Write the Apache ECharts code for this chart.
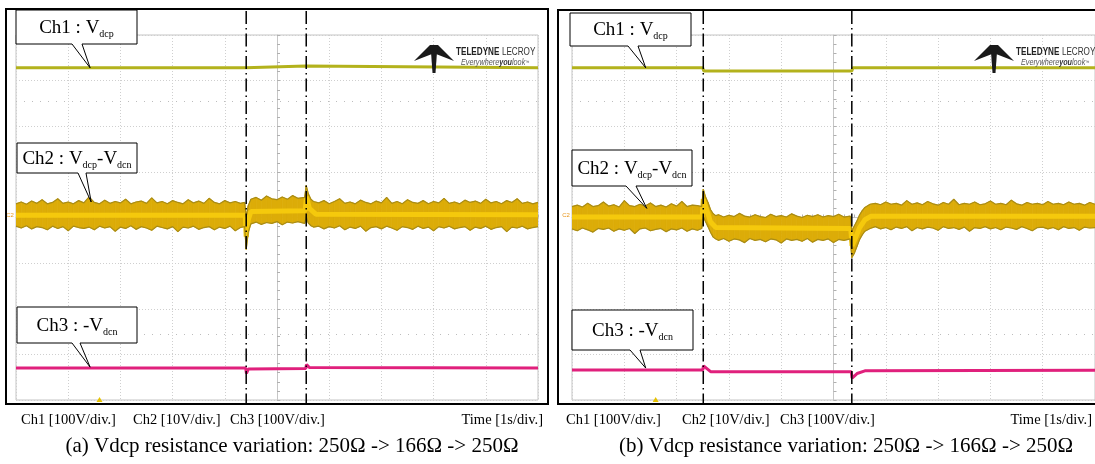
<!DOCTYPE html>
<html><head><meta charset="utf-8">
<script src="https://cdn.jsdelivr.net/npm/echarts@6/dist/echarts.min.js"></script>
<style>html,body{margin:0;padding:0;background:#fff}#c{width:1095px;height:464px}</style>
</head><body><div id="c"></div>
<script>
// ---------- data (scope units: x in divisions from centre, y in divisions from centre) ----------
const cursorsA = [-0.59, 0.56];
const cursorsB = [-2.49, 0.35];
const offsetMarks = [2.55, -2.55];

const ch1A = [[-5,3.28],[-0.6,3.28],[-0.58,3.32],[0.55,3.32],[0.57,3.28],[5,3.28]];
const ch1B = [[-5,3.28],[-2.5,3.28],[-2.48,3.21],[0.35,3.21],[0.37,3.28],[5,3.28]];

const ch3A = [[-5,-3.30],[-0.6,-3.30],[-0.585,-3.42],[-0.55,-3.32],[0.55,-3.31],[0.565,-3.22],[0.62,-3.29],[5,-3.30]];
const ch3B = [[-5,-3.34],[-2.5,-3.34],[-2.485,-3.25],[-2.35,-3.38],[0.34,-3.38],[0.355,-3.52],[0.45,-3.42],[0.6,-3.36],[5,-3.35]];

const ch2MidA = [[-5,0.05],[-0.61,0.05],[-0.59,-0.42],[-0.55,-0.05],[-0.5,0.13],[0.54,0.15],[0.565,0.45],[0.62,0.2],[0.75,0.07],[5,0.06]];
const ch2MidB = [[-5,0.01],[-2.51,0.01],[-2.49,0.40],[-2.42,0.15],[-2.35,-0.1],[-2.25,-0.22],[0.33,-0.24],[0.355,-0.62],[0.42,-0.45],[0.5,-0.22],[0.6,-0.05],[0.72,0.03],[5,0.03]];

// Ch2 envelope: [t, low, high]
const ch2BandA = [
[-5.0,-0.19,0.30],[-4.9,-0.23,0.34],[-4.8,-0.18,0.29],[-4.7,-0.25,0.36],[-4.6,-0.20,0.31],[-4.5,-0.22,0.39],[-4.4,-0.27,0.30],[-4.3,-0.19,0.33],[-4.2,-0.24,0.41],[-4.1,-0.20,0.31],
[-4.0,-0.29,0.34],[-3.9,-0.19,0.30],[-3.8,-0.22,0.37],[-3.7,-0.24,0.32],[-3.6,-0.21,0.45],[-3.5,-0.27,0.33],[-3.4,-0.19,0.30],[-3.3,-0.23,0.38],[-3.2,-0.20,0.31],[-3.1,-0.30,0.35],
[-3.0,-0.21,0.32],[-2.9,-0.24,0.40],[-2.8,-0.18,0.30],[-2.7,-0.26,0.34],[-2.6,-0.20,0.36],[-2.5,-0.23,0.31],[-2.4,-0.28,0.43],[-2.3,-0.19,0.32],[-2.2,-0.22,0.35],[-2.1,-0.25,0.30],
[-2.0,-0.20,0.37],[-1.9,-0.31,0.33],[-1.8,-0.21,0.30],[-1.7,-0.23,0.39],[-1.6,-0.19,0.32],[-1.5,-0.26,0.36],[-1.4,-0.22,0.31],[-1.3,-0.20,0.42],[-1.2,-0.27,0.33],[-1.1,-0.21,0.30],
[-1.0,-0.24,0.37],[-0.9,-0.19,0.32],[-0.8,-0.29,0.35],[-0.7,-0.22,0.31],[-0.62,-0.20,0.33],
[-0.59,-0.70,0.02],[-0.55,-0.32,0.26],[-0.5,-0.14,0.40],[-0.4,-0.10,0.44],[-0.3,-0.15,0.38],[-0.2,-0.11,0.47],[-0.1,-0.13,0.41],[0.0,-0.09,0.39],[0.1,-0.16,0.45],[0.2,-0.10,0.40],[0.3,-0.12,0.48],[0.4,-0.09,0.42],[0.53,-0.13,0.44],
[0.56,0.02,0.70],[0.6,-0.12,0.52],[0.65,-0.18,0.40],[0.7,-0.21,0.35],[0.8,-0.19,0.32],[0.9,-0.25,0.37],
[1.0,-0.20,0.30],[1.1,-0.23,0.35],[1.2,-0.18,0.41],[1.3,-0.27,0.31],[1.4,-0.21,0.34],[1.5,-0.24,0.30],[1.6,-0.19,0.38],[1.7,-0.30,0.33],[1.8,-0.22,0.30],[1.9,-0.20,0.36],
[2.0,-0.25,0.32],[2.1,-0.19,0.44],[2.2,-0.23,0.31],[2.3,-0.28,0.35],[2.4,-0.20,0.30],[2.5,-0.22,0.39],[2.6,-0.26,0.33],[2.7,-0.19,0.31],[2.8,-0.24,0.37],[2.9,-0.21,0.30],
[3.0,-0.29,0.35],[3.1,-0.20,0.32],[3.2,-0.23,0.42],[3.3,-0.19,0.31],[3.4,-0.25,0.34],[3.5,-0.22,0.30],[3.6,-0.20,0.38],[3.7,-0.28,0.33],[3.8,-0.21,0.36],[3.9,-0.24,0.31],
[4.0,-0.19,0.40],[4.1,-0.26,0.32],[4.2,-0.22,0.35],[4.3,-0.20,0.30],[4.4,-0.31,0.37],[4.5,-0.21,0.33],[4.6,-0.23,0.41],[4.7,-0.19,0.31],[4.8,-0.25,0.34],[4.9,-0.22,0.30],[5.0,-0.20,0.33]
];
const ch2BandB = [
[-5.0,-0.25,0.24],[-4.9,-0.29,0.27],[-4.8,-0.23,0.23],[-4.7,-0.27,0.31],[-4.6,-0.32,0.24],[-4.5,-0.24,0.26],[-4.4,-0.26,0.34],[-4.3,-0.23,0.25],[-4.2,-0.30,0.28],[-4.1,-0.25,0.23],
[-4.0,-0.28,0.37],[-3.9,-0.24,0.26],[-3.8,-0.35,0.24],[-3.7,-0.25,0.29],[-3.6,-0.23,0.25],[-3.5,-0.29,0.32],[-3.4,-0.26,0.24],[-3.3,-0.24,0.27],[-3.2,-0.31,0.23],[-3.1,-0.25,0.30],
[-3.0,-0.27,0.25],[-2.9,-0.23,0.35],[-2.8,-0.30,0.24],[-2.7,-0.25,0.27],[-2.6,-0.28,0.26],[-2.52,-0.24,0.24],
[-2.49,0.02,0.62],[-2.45,-0.08,0.46],[-2.4,-0.20,0.33],[-2.35,-0.33,0.17],[-2.3,-0.43,0.08],[-2.25,-0.47,0.04],[-2.2,-0.50,0.06],[-2.1,-0.46,0.01],[-2.0,-0.52,0.05],
[-1.9,-0.47,0.02],[-1.8,-0.49,0.09],[-1.7,-0.55,0.03],[-1.6,-0.46,0.01],[-1.5,-0.50,0.06],[-1.4,-0.48,0.02],[-1.3,-0.53,0.00],[-1.2,-0.47,0.07],[-1.1,-0.49,0.02],[-1.0,-0.56,0.04],
[-0.9,-0.47,0.01],[-0.8,-0.50,0.08],[-0.7,-0.48,0.03],[-0.6,-0.52,0.00],[-0.5,-0.46,0.05],[-0.4,-0.54,0.02],[-0.3,-0.48,0.06],[-0.2,-0.50,0.01],[-0.1,-0.47,0.04],[0.0,-0.55,0.02],
[0.1,-0.48,0.07],[0.2,-0.50,0.01],[0.32,-0.47,0.03],
[0.35,-0.88,-0.30],[0.4,-0.78,-0.18],[0.45,-0.63,-0.07],[0.5,-0.48,0.06],[0.55,-0.38,0.15],[0.6,-0.30,0.22],[0.7,-0.24,0.29],[0.8,-0.20,0.31],[0.9,-0.25,0.28],
[1.0,-0.22,0.34],[1.1,-0.27,0.29],[1.2,-0.21,0.31],[1.3,-0.24,0.27],[1.4,-0.20,0.37],[1.5,-0.29,0.29],[1.6,-0.22,0.32],[1.7,-0.25,0.28],[1.8,-0.21,0.35],[1.9,-0.23,0.30],
[2.0,-0.28,0.27],[2.1,-0.20,0.33],[2.2,-0.24,0.29],[2.3,-0.22,0.40],[2.4,-0.26,0.28],[2.5,-0.21,0.31],[2.6,-0.30,0.29],[2.7,-0.22,0.34],[2.8,-0.24,0.28],[2.9,-0.20,0.30],
[3.0,-0.25,0.36],[3.1,-0.22,0.29],[3.2,-0.27,0.31],[3.3,-0.21,0.28],[3.4,-0.23,0.38],[3.5,-0.26,0.30],[3.6,-0.20,0.27],[3.7,-0.24,0.33],[3.8,-0.29,0.29],[3.9,-0.22,0.31],
[4.0,-0.21,0.28],[4.1,-0.25,0.35],[4.2,-0.22,0.29],[4.3,-0.27,0.31],[4.4,-0.20,0.28],[4.5,-0.24,0.34],[4.6,-0.22,0.29],[4.7,-0.28,0.31],[4.8,-0.21,0.27],[4.9,-0.23,0.33],[5.0,-0.22,0.29]
];

// callout tips (data coords)
const tipsA = [[-3.58,3.28],[-3.56,0.34],[-3.58,-3.28]];
const tipsB = [[-3.59,3.28],[-3.57,0.20],[-3.59,-3.30]];

const scaleLabels = ['Ch1 [100V/div.]','Ch2 [10V/div.]','Ch3 [100V/div.]','Time [1s/div.]'];
const captions = ['(a) Vdcp resistance variation: 250\u03A9 -> 166\u03A9 -> 250\u03A9','(b) Vdcp resistance variation: 250\u03A9 -> 166\u03A9 -> 250\u03A9'];

// ---------- chart ----------
const C_CH1 = '#b3b21c', C_CH3 = '#e0207c', C_BAND = '#dcac08', C_EDGE = '#a98c16', C_MID = '#f5c90c';
const SERIF = '"Liberation Serif","Times New Roman",serif';
const SANS = '"Liberation Sans Narrow","Liberation Sans",sans-serif';
const chart = echarts.init(document.getElementById('c'), null, {renderer:'canvas'});

function axisPair(i){
  const common = {
    gridIndex:i, type:'value', min:-5, max:5, interval:1,
    axisLine:{onZero:true, lineStyle:{color:'#c6c6c6', width:1}},
    axisTick:{show:true, inside:true, length:3, lineStyle:{color:'#b0b0b0'}},
    minorTick:{show:true, splitNumber:5, length:3, lineStyle:{color:'#b0b0b0'}},
    axisLabel:{show:false},
    splitLine:{show:true, lineStyle:{color:'#cfcfcf', type:[1,2], width:1}}
  };
  return [common, Object.assign({}, common, {min:-4, max:4})];
}
const [xa0, ya0] = axisPair(0), [xa1, ya1] = axisPair(1);

function bandSeries(arr, i){
  return {
    type:'custom', xAxisIndex:i, yAxisIndex:i, data:arr, silent:true, clip:true, z:2,
    encode:{x:0, y:[1,2]},
    renderItem:function(params, api){
      const k = params.dataIndex;
      if (k >= arr.length-1) return null;
      const a = arr[k], b = arr[k+1];
      const pts = [api.coord([a[0],a[2]]), api.coord([b[0],b[2]]), api.coord([b[0],b[1]]), api.coord([a[0],a[1]])];
      return {type:'polygon', shape:{points:pts}, style:{fill:C_BAND, stroke:C_BAND, lineWidth:0.8}};
    }
  };
}
function lineSeries(data, i, color, width, extra){
  return Object.assign({type:'line', xAxisIndex:i, yAxisIndex:i, data:data, showSymbol:false, symbol:'none',
    silent:true, lineStyle:{color:color, width:width}, z:3}, extra||{});
}
function edges(arr, i){
  return [
    lineSeries(arr.map(r=>[r[0], r[2]]), i, C_EDGE, 1.2, {z:4}),
    lineSeries(arr.map(r=>[r[0], r[1]]), i, C_EDGE, 1.2, {z:4})
  ];
}
const marks = {markLine:{silent:true, symbol:'none', label:{show:false},
  lineStyle:{color:'#bdbdbd', type:[1,7], width:1}, data:offsetMarks.map(v=>({yAxis:v}))}};

chart.setOption({
  animation:false,
  grid:[
    {left:16, top:35, width:522, height:365, show:true, borderColor:'#c4c4c4', borderWidth:1, backgroundColor:'#fff'},
    {left:572, top:35, width:525, height:365, show:true, borderColor:'#c4c4c4', borderWidth:1, backgroundColor:'#fff'}
  ],
  xAxis:[xa0, xa1],
  yAxis:[ya0, ya1],
  series:[
    lineSeries(ch1A, 0, C_CH1, 3, marks),
    bandSeries(ch2BandA, 0),
    ...edges(ch2BandA, 0),
    lineSeries(ch2MidA, 0, C_MID, 5),
    lineSeries(ch3A, 0, C_CH3, 3),
    lineSeries(ch1B, 1, C_CH1, 3, marks),
    bandSeries(ch2BandB, 1),
    ...edges(ch2BandB, 1),
    lineSeries(ch2MidB, 1, C_MID, 5),
    lineSeries(ch3B, 1, C_CH3, 3)
  ]
});

// ---------- annotations ----------
const g = [];
function px(i, pt){ return chart.convertToPixel({xAxisIndex:i, yAxisIndex:i}, pt); }
function frame(x, y, w, h){
  g.push({type:'rect', shape:{x:x, y:y, width:w, height:h}, style:{fill:'none', stroke:'#000', lineWidth:2}, z:50});
}
function callout(box, b1, b2, tip, text){
  const [x0,y0,x1,y1] = box;
  g.push({type:'polygon', shape:{points:[[x0,y0],[x1,y0],[x1,y1],[b2,y1],tip,[b1,y1],[x0,y1]]},
    style:{fill:'#fff', stroke:'#000', lineWidth:1}, z:60});
  g.push({type:'text', x:(x0+x1)/2, y:(y0+y1)/2+1, z:61, style:{text:text, align:'center', verticalAlign:'middle',
    rich:{m:{fontSize:19, fontFamily:SERIF, fill:'#000', lineHeight:22},
          s:{fontSize:10, fontFamily:SERIF, fill:'#000', lineHeight:11, verticalAlign:'bottom'}}}});
}
function logo(ox){
  const s = [
    [[ox+414,61],[ox+430,45],[ox+432,45],[ox+432,54]],
    [[ox+454,61],[ox+438,45],[ox+436,45],[ox+436,54]],
    [[ox+430.5,45],[ox+437.5,45],[ox+435.5,73],[ox+432.5,73]]
  ];
  s.forEach(p=>g.push({type:'polygon', shape:{points:p}, style:{fill:'#1a1a1a'}, z:55}));
  g.push({type:'text', x:ox+456, y:52, scaleX:0.74, z:55,
    style:{text:'{b|TELEDYNE} {n|LECROY}', verticalAlign:'middle',
    rich:{b:{fontSize:11, fontWeight:'bold', fontFamily:SANS, fill:'#222'},
          n:{fontSize:11, fontFamily:SANS, fill:'#333'}}}});
  g.push({type:'text', x:ox+461, y:63, scaleX:0.85, z:55,
    style:{text:'{i|Everywhere}{b|you}{i|look}{t|\u2122}', verticalAlign:'middle',
    rich:{i:{fontSize:8.5, fontStyle:'italic', fontFamily:SANS, fill:'#555'},
          b:{fontSize:8.5, fontStyle:'italic', fontWeight:'bold', fontFamily:SANS, fill:'#333'},
          t:{fontSize:5, fill:'#555'}}}});
}
function cursors(i, list){
  list.forEach(t=>{
    const x = px(i, [t, 0])[0];
    g.push({type:'line', shape:{x1:x, y1:11, x2:x, y2:404}, style:{stroke:'#000', lineWidth:1.5, lineDash:[13,4,1.5,4]}, z:40});
  });
}
function trig(i){
  const p = px(i, [-3.4, -4]);
  g.push({type:'polygon', shape:{points:[[p[0]-3,p[1]+2],[p[0]+3,p[1]+2],[p[0],p[1]-3]]}, style:{fill:'#e6c200'}, z:45});
}
function c2mark(i){
  const p = px(i, [-5, 0.05]);
  g.push({type:'text', x:p[0]-6, y:p[1], z:45, style:{text:'C2', fontSize:6, fill:'#e8961a', align:'center', verticalAlign:'middle', fontFamily:'sans-serif'}});
}
function texts(xs, right, y, cap, capX){
  for (let k=0;k<3;k++) g.push({type:'text', x:xs[k], y:y, style:{text:scaleLabels[k], fontSize:14.5, fontFamily:SERIF, fill:'#000', verticalAlign:'middle'}});
  g.push({type:'text', x:right, y:y, style:{text:scaleLabels[3], fontSize:14.5, fontFamily:SERIF, fill:'#000', align:'right', verticalAlign:'middle'}});
  g.push({type:'text', x:capX, y:446, style:{text:cap, fontSize:21, fontFamily:SERIF, fill:'#000', align:'center', verticalAlign:'middle'}});
}

frame(6, 9, 542, 395);
frame(558, 10, 580, 394);
cursors(0, cursorsA); cursors(1, cursorsB);
trig(0); trig(1); c2mark(0); c2mark(1);
logo(0); logo(560);

const tA = tipsA.map(p=>px(0,p)), tB = tipsB.map(p=>px(1,p));
callout([16,10,137,44], 72, 82, tA[0], '{m|Ch1 : V}{s|dcp}');
callout([17,143,137,173], 78, 86, tA[1], '{m|Ch2 : V}{s|dcp}{m|-V}{s|dcn}');
callout([17,307,137,343], 72, 80, tA[2], '{m|Ch3 : -V}{s|dcn}');
callout([570,13,691,46], 628, 638, tB[0], '{m|Ch1 : V}{s|dcp}');
callout([572,150,692,186], 626, 636, tB[1], '{m|Ch2 : V}{s|dcp}{m|-V}{s|dcn}');
callout([572,310,693,350], 630, 640, tB[2], '{m|Ch3 : -V}{s|dcn}');

texts([21,133,230], 543, 420, captions[0], 292);
texts([566,682,780], 1092, 420, captions[1], 846);

chart.setOption({graphic:{elements:g}});
</script></body></html>
